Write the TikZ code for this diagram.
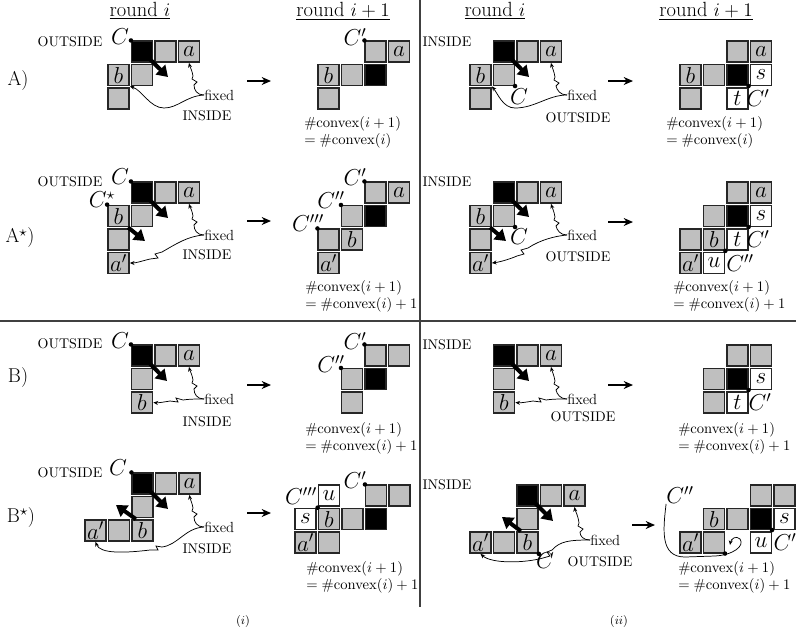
\documentclass[tikz,border=0pt]{standalone}
\usetikzlibrary{arrows.meta}
\tikzset{
  cellbase/.style={rectangle, draw=black!85, line width=0.8pt, minimum size=15.75pt, inner sep=0pt, font=\fontsize{17}{17}\selectfont},
  gc/.style={cellbase, fill=black!25},
  lc/.style={cellbase, fill=black!25, line width=1.3pt},
  bc/.style={cellbase, fill=black},
  wc/.style={cellbase, fill=white, line width=1.1pt},
  clab/.style={font=\fontsize{17}{17}\selectfont, inner sep=0pt},
  sidel/.style={font=\fontsize{10.5}{12}\selectfont, inner sep=0pt},
  fixlab/.style={font=\fontsize{11}{13}\selectfont, inner sep=0pt, anchor=west},
  rowlab/.style={font=\fontsize{15}{17}\selectfont, inner sep=0pt},
  hdr/.style={font=\fontsize{15.4}{17}\selectfont, inner sep=0pt},
  cnt/.style={font=\fontsize{10.5}{12.75}\selectfont, align=left, inner sep=0pt, anchor=north west},
  capt/.style={font=\fontsize{9}{11}\selectfont, inner sep=0pt},
  bigarrow/.style={line width=3pt, -{Triangle[length=8pt,width=10pt]}},
  trarrow/.style={line width=0.9pt, -{Stealth[length=7pt,width=6pt]}},
  wig/.style={line width=0.55pt, -{Stealth[length=3.5pt,width=3pt]}},
  divider/.style={line width=1pt, draw=black!75},
}
\newcommand\mkcell[5]{\node[#2] (#1) at ({\PX+#3*23.5+10.5},{\PY+#4*23.5+10.5}) {#5};}
\newcommand\mkdot[1]{\fill (#1) circle[radius=1.7pt];}
\begin{document}
\begin{tikzpicture}[x=0.75pt,y=-0.75pt]
\useasboundingbox (0,0) rectangle (796,633);
\def\yB{345}
% dividers
\draw[divider] (420,0) -- (420,607);
\draw[divider] (0,321) -- (796,321);
% headers
\node[hdr] (h1) at (140,11) {\underline{round $i$}};
\node[hdr] (h2) at (343,11) {\underline{round $i+1$}};
\node[hdr] (h3) at (495,11) {\underline{round $i$}};
\node[hdr] (h4) at (706,11) {\underline{round $i+1$}};
% ================= A (i) =================
\def\PX{108}\def\PY{41}
\mkcell{aiK}{bc}{1}{0}{}
\mkcell{aiG1}{gc}{2}{0}{}
\mkcell{aiA}{lc}{3}{0}{$a$}
\mkcell{aiB}{lc}{0}{1}{$b$}
\mkcell{aiG2}{gc}{1}{1}{}
\mkcell{aiG3}{gc}{0}{2}{}
\node[clab] (aiC) at (120,37) {$C$};
\mkdot{aiK.north west}
\coordinate (aiT) at (168,77);
\draw[bigarrow] (aiK.center) -- (aiT);
\node[sidel] (aiO) at (70,42) {OUTSIDE};
\node[rowlab] (rA) at (18,81) {A)};
\node[fixlab] (aiF) at (204,95) {fixed};
\node[sidel] (aiI) at (207,116) {INSIDE};
\draw[wig] (aiF.west) .. controls (197,95) and (194,90) .. (194,85) -- (197,82) -- (192,79) -- (193,76) .. controls (192,70) and (190,67) .. (aiA.south);
\draw[wig] (aiF.west) .. controls (186,96) and (178,108) .. (164,108) .. controls (150,108) and (142,90) .. (aiB.south east);
\coordinate (t1a) at (247,81); \coordinate (t1b) at (271,81);
\draw[trarrow] (t1a) -- (t1b);
\def\PX{318}\def\PY{41}
\mkcell{ajG1}{gc}{2}{0}{}
\mkcell{ajA}{lc}{3}{0}{$a$}
\mkcell{ajB}{lc}{0}{1}{$b$}
\mkcell{ajG2}{gc}{1}{1}{}
\mkcell{ajK}{bc}{2}{1}{}
\mkcell{ajG3}{gc}{0}{2}{}
\node[clab] (ajC) at (355,37) {$C'$};
\mkdot{ajG1.north west}
\node[cnt] (ajN) at (304,116) {$\#\mathrm{convex}(i+1)$\\$=\#\mathrm{convex}(i)$};
% ================= A (ii) =================
\def\PX{470}\def\PY{41}
\mkcell{biK}{bc}{1}{0}{}
\mkcell{biG1}{gc}{2}{0}{}
\mkcell{biA}{lc}{3}{0}{$a$}
\mkcell{biB}{lc}{0}{1}{$b$}
\mkcell{biG2}{gc}{1}{1}{}
\mkcell{biG3}{gc}{0}{2}{}
\node[clab] (biC) at (519,97) {$C$};
\mkdot{biG2.south east}
\coordinate (biT) at (529,77);
\draw[bigarrow] (biK.center) -- (biT);
\node[sidel] (biI) at (447,42) {INSIDE};
\node[fixlab] (biF) at (567,95) {fixed};
\node[sidel] (biO) at (578,118) {OUTSIDE};
\draw[wig] (biF.west) .. controls (560,95) and (557,90) .. (556,86) -- (559,83) -- (554,80) -- (555,77) .. controls (554,71) and (552,67) .. (biA.south);
\draw[wig] (biF.west) .. controls (548,95) and (535,108) .. (515,108) .. controls (503,108) and (498,94) .. (biB.south east);
\coordinate (t2a) at (608,81); \coordinate (t2b) at (633,81);
\draw[trarrow] (t2a) -- (t2b);
\def\PX{680}\def\PY{41}
\mkcell{bjG1}{gc}{2}{0}{}
\mkcell{bjA}{lc}{3}{0}{$a$}
\mkcell{bjB}{lc}{0}{1}{$b$}
\mkcell{bjG2}{gc}{1}{1}{}
\mkcell{bjK}{bc}{2}{1}{}
\mkcell{bjS}{wc}{3}{1}{$s$}
\mkcell{bjG3}{gc}{0}{2}{}
\mkcell{bjT}{wc}{2}{2}{$t$}
\node[clab] (bjC) at (758,98) {$C'$};
\mkdot{bjK.south east}
\node[cnt] (bjN) at (666,116) {$\#\mathrm{convex}(i+1)$\\$=\#\mathrm{convex}(i)$};
% ================= A* (i) =================
\def\PX{108}\def\PY{182}
\mkcell{ciK}{bc}{1}{0}{}
\mkcell{ciG1}{gc}{2}{0}{}
\mkcell{ciA}{lc}{3}{0}{$a$}
\mkcell{ciB}{lc}{0}{1}{$b$}
\mkcell{ciG2}{gc}{1}{1}{}
\mkcell{ciG3}{gc}{0}{2}{}
\mkcell{ciA2}{lc}{0}{3}{$a'$}
\node[clab] (ciC) at (120,177) {$C$};
\mkdot{ciK.north west}
\node[clab] (ciC2) at (102,200) {$C^\star$};
\mkdot{ciB.north west}
\coordinate (ciT) at (168,218);
\draw[bigarrow] (ciK.center) -- (ciT);
\coordinate (ciT2) at (145,241);
\draw[bigarrow] (ciB.-50) -- (ciT2);
\node[sidel] (ciO) at (70,182) {OUTSIDE};
\node[rowlab] (rAs) at (20,238) {A$^\star$)};
\node[fixlab] (ciF) at (204,235) {fixed};
\node[sidel] (ciI) at (207,255) {INSIDE};
\draw[wig] (ciF.west) .. controls (197,235) and (194,230) .. (194,225) -- (197,222) -- (192,219) -- (193,216) .. controls (192,210) and (190,207) .. (ciA.south);
\draw[wig] (ciF.west) .. controls (188,236) and (176,244) .. (162,252) -- (155,254) -- (158,258) -- (150,259) .. controls (142,261) and (136,263) .. (ciA2.east);
\coordinate (t3a) at (247,221); \coordinate (t3b) at (271,221);
\draw[trarrow] (t3a) -- (t3b);
\def\PX{318}\def\PY{182}
\mkcell{cjG1}{gc}{2}{0}{}
\mkcell{cjA}{lc}{3}{0}{$a$}
\mkcell{cjG2}{gc}{1}{1}{}
\mkcell{cjK}{bc}{2}{1}{}
\mkcell{cjG3}{gc}{0}{2}{}
\mkcell{cjB}{lc}{1}{2}{$b$}
\mkcell{cjA2}{lc}{0}{3}{$a'$}
\node[clab] (cjC) at (355,177) {$C'$};
\mkdot{cjG1.north west}
\node[clab] (cjC2) at (331,200) {$C''$};
\mkdot{cjG2.north west}
\node[clab] (cjC3) at (308,223) {$C'''$};
\mkdot{cjG3.north west}
\node[cnt] (cjN) at (305,280) {$\#\mathrm{convex}(i+1)$\\$=\#\mathrm{convex}(i)+1$};
% ================= A* (ii) =================
\def\PX{470}\def\PY{182}
\mkcell{diK}{bc}{1}{0}{}
\mkcell{diG1}{gc}{2}{0}{}
\mkcell{diA}{lc}{3}{0}{$a$}
\mkcell{diB}{lc}{0}{1}{$b$}
\mkcell{diG2}{gc}{1}{1}{}
\mkcell{diG3}{gc}{0}{2}{}
\mkcell{diA2}{lc}{0}{3}{$a'$}
\node[clab] (diC) at (519,237) {$C$};
\mkdot{diG2.south east}
\coordinate (diT) at (529,217);
\draw[bigarrow] (diK.center) -- (diT);
\coordinate (diT2) at (506,241);
\draw[bigarrow] (diB.-50) -- (diT2);
\node[sidel] (diI) at (447,182) {INSIDE};
\node[fixlab] (diF) at (567,235) {fixed};
\node[sidel] (diO) at (578,257) {OUTSIDE};
\draw[wig] (diF.west) .. controls (560,235) and (557,230) .. (556,226) -- (559,223) -- (554,220) -- (555,217) .. controls (554,211) and (552,207) .. (diA.south);
\draw[wig] (diF.west) .. controls (555,236) and (540,240) .. (528,248) -- (521,250) -- (524,254) -- (517,256) .. controls (510,259) and (500,262) .. (diA2.east);
\coordinate (t4a) at (608,222); \coordinate (t4b) at (633,222);
\draw[trarrow] (t4a) -- (t4b);
\def\PX{680}\def\PY{182}
\mkcell{djG1}{gc}{2}{0}{}
\mkcell{djA}{lc}{3}{0}{$a$}
\mkcell{djG2}{gc}{1}{1}{}
\mkcell{djK}{bc}{2}{1}{}
\mkcell{djS}{wc}{3}{1}{$s$}
\mkcell{djG3}{gc}{0}{2}{}
\mkcell{djB}{lc}{1}{2}{$b$}
\mkcell{djT}{wc}{2}{2}{$t$}
\mkcell{djA2}{lc}{0}{3}{$a'$}
\mkcell{djU}{wc}{1}{3}{$u$}
\node[clab] (djC) at (758,239) {$C'$};
\mkdot{djK.south east}
\node[clab] (djC2) at (740,263) {$C''$};
\mkdot{djB.south east}
\node[cnt] (djN) at (673,280) {$\#\mathrm{convex}(i+1)$\\$=\#\mathrm{convex}(i)+1$};
% ================= B (i) =================
\def\PX{108}\def\PY{\yB}
\mkcell{eiK}{bc}{1}{0}{}
\mkcell{eiG1}{gc}{2}{0}{}
\mkcell{eiA}{lc}{3}{0}{$a$}
\mkcell{eiG2}{gc}{1}{1}{}
\mkcell{eiB}{lc}{1}{2}{$b$}
\node[clab] (eiC) at (120,\yB-4) {$C$};
\mkdot{eiK.north west}
\coordinate (eiT) at (167,\yB+36);
\draw[bigarrow] (eiK.center) -- (eiT);
\node[sidel] (eiO) at (70,\yB-1) {OUTSIDE};
\node[rowlab] (rB) at (18,\yB+33) {B)};
\node[fixlab] (eiF) at (204,\yB+54) {fixed};
\node[sidel] (eiI) at (207,\yB+77) {INSIDE};
\draw[wig] (eiF.west) .. controls (197,\yB+54) and (194,\yB+49) .. (194,\yB+44) -- (197,\yB+41) -- (192,\yB+38) -- (193,\yB+35) .. controls (192,\yB+29) and (190,\yB+26) .. (eiA.south);
\draw[wig] (eiF.west) .. controls (196,\yB+54) and (189,\yB+54) .. (183,\yB+55) -- (176,\yB+53) -- (178,\yB+57) -- (170,\yB+56) .. controls (164,\yB+57) and (158,\yB+58) .. (eiB.east);
\coordinate (t5a) at (247,\yB+40); \coordinate (t5b) at (271,\yB+40);
\draw[trarrow] (t5a) -- (t5b);
\def\PX{318}\def\PY{\yB}
\mkcell{ejG1}{gc}{2}{0}{}
\mkcell{ejG2}{gc}{3}{0}{}
\mkcell{ejG3}{gc}{1}{1}{}
\mkcell{ejK}{bc}{2}{1}{}
\mkcell{ejG4}{gc}{1}{2}{}
\node[clab] (ejC) at (355,\yB-4) {$C'$};
\mkdot{ejG1.north west}
\node[clab] (ejC2) at (331,\yB+19) {$C''$};
\mkdot{ejG3.north west}
\node[cnt] (ejN) at (305,\yB+77) {$\#\mathrm{convex}(i+1)$\\$=\#\mathrm{convex}(i)+1$};
% ================= B (ii) =================
\def\PX{470}\def\PY{\yB}
\mkcell{fiK}{bc}{1}{0}{}
\mkcell{fiG1}{gc}{2}{0}{}
\mkcell{fiA}{lc}{3}{0}{$a$}
\mkcell{fiG2}{gc}{1}{1}{}
\mkcell{fiB}{lc}{1}{2}{$b$}
\coordinate (fiT) at (529,\yB+36);
\draw[bigarrow] (fiK.center) -- (fiT);
\node[sidel] (fiI) at (447,\yB) {INSIDE};
\node[fixlab] (fiF) at (567,\yB+54) {fixed};
\node[sidel] (fiO) at (583,\yB+72) {OUTSIDE};
\draw[wig] (fiF.west) .. controls (560,\yB+54) and (557,\yB+49) .. (556,\yB+45) -- (559,\yB+42) -- (554,\yB+39) -- (555,\yB+36) .. controls (554,\yB+30) and (552,\yB+26) .. (fiA.south);
\draw[wig] (fiF.west) .. controls (559,\yB+54) and (552,\yB+54) .. (546,\yB+55) -- (539,\yB+53) -- (541,\yB+57) -- (533,\yB+56) .. controls (527,\yB+57) and (521,\yB+58) .. (fiB.east);
\coordinate (t6a) at (608,\yB+40); \coordinate (t6b) at (633,\yB+40);
\draw[trarrow] (t6a) -- (t6b);
\def\PX{680}\def\PY{\yB}
\mkcell{fjG1}{gc}{2}{0}{}
\mkcell{fjG2}{gc}{3}{0}{}
\mkcell{fjG3}{gc}{1}{1}{}
\mkcell{fjK}{bc}{2}{1}{}
\mkcell{fjS}{wc}{3}{1}{$s$}
\mkcell{fjG4}{gc}{1}{2}{}
\mkcell{fjT}{wc}{2}{2}{$t$}
\node[clab] (fjC) at (760,\yB+57) {$C'$};
\mkdot{fjK.south east}
\node[cnt] (fjN) at (678,\yB+77) {$\#\mathrm{convex}(i+1)$\\$=\#\mathrm{convex}(i)+1$};
% ================= B* (i) =================
\def\PX{85}\def\PY{473}
\mkcell{giK}{bc}{2}{0}{}
\mkcell{giG1}{gc}{3}{0}{}
\mkcell{giA}{lc}{4}{0}{$a$}
\mkcell{giG2}{gc}{2}{1}{}
\mkcell{giA2}{lc}{0}{2}{$a'$}
\mkcell{giG3}{gc}{1}{2}{}
\mkcell{giB}{lc}{2}{2}{$b$}
\node[clab] (giC) at (118,468) {$C$};
\mkdot{giK.north west}
\coordinate (giT) at (168,509);
\draw[bigarrow] (giK.center) -- (giT);
\coordinate (giT2) at (116,505);
\draw[bigarrow] (giB.120) -- (giT2);
\node[sidel] (giO) at (70,473) {OUTSIDE};
\node[rowlab] (rBs) at (21,517) {B$^\star$)};
\node[fixlab] (giF) at (204,527) {fixed};
\node[sidel] (giI) at (207,549) {INSIDE};
\draw[wig] (giF.west) .. controls (197,527) and (194,522) .. (194,517) -- (197,514) -- (192,511) -- (193,508) .. controls (192,502) and (190,499) .. (giA.south);
\draw[wig] (giF.west) .. controls (185,528) and (178,545) .. (162,547) -- (156,546) -- (158,550) -- (150,550) .. controls (125,553) and (100,554) .. (giA2.south);
\coordinate (t7a) at (247,513); \coordinate (t7b) at (271,513);
\draw[trarrow] (t7a) -- (t7b);
\def\PX{295}\def\PY{485}
\mkcell{gjU}{wc}{1}{0}{$u$}
\mkcell{gjG1}{gc}{3}{0}{}
\mkcell{gjG2}{gc}{4}{0}{}
\mkcell{gjS}{wc}{0}{1}{$s$}
\mkcell{gjB}{lc}{1}{1}{$b$}
\mkcell{gjG3}{gc}{2}{1}{}
\mkcell{gjK}{bc}{3}{1}{}
\mkcell{gjA2}{lc}{0}{2}{$a'$}
\mkcell{gjG4}{gc}{1}{2}{}
\node[clab] (gjC) at (355,480) {$C'$};
\mkdot{gjG1.north west}
\node[clab] (gjC3) at (301,496) {$C'''$};
\mkdot{gjB.north west}
\node[cnt] (gjN) at (306,561) {$\#\mathrm{convex}(i+1)$\\$=\#\mathrm{convex}(i)+1$};
% ================= B* (ii) =================
\def\PX{470}\def\PY{485}
\mkcell{hiK}{bc}{2}{0}{}
\mkcell{hiG1}{gc}{3}{0}{}
\mkcell{hiA}{lc}{4}{0}{$a$}
\mkcell{hiG2}{gc}{2}{1}{}
\mkcell{hiA2}{lc}{0}{2}{$a'$}
\mkcell{hiG3}{gc}{1}{2}{}
\mkcell{hiB}{lc}{2}{2}{$b$}
\coordinate (hiT) at (553,521);
\draw[bigarrow] (hiK.center) -- (hiT);
\coordinate (hiT2) at (502,517);
\draw[bigarrow] (hiB.120) -- (hiT2);
\node[sidel] (hiI) at (447,485) {INSIDE};
\node[fixlab] (hiF) at (590,540) {fixed};
\node[sidel] (hiO) at (600,562) {OUTSIDE};
\draw[wig] (hiF.west) .. controls (583,540) and (580,536) .. (580,532) -- (583,529) -- (578,526) -- (579,523) .. controls (578,515) and (575,510) .. (hiA.south);
\draw[wig] (hiF.west) .. controls (570,540) and (560,541) .. (552,550) -- (547,552) -- (550,556) -- (543,558) .. controls (525,563) and (492,564) .. (hiA2.south);
\node[clab] (hiC) at (545,561) {$C$};
\mkdot{hiB.south east}
\coordinate (t8a) at (632,525); \coordinate (t8b) at (655,525);
\draw[trarrow] (t8a) -- (t8b);
\def\PX{680}\def\PY{485}
\mkcell{hjG1}{gc}{3}{0}{}
\mkcell{hjG2}{gc}{4}{0}{}
\mkcell{hjB}{lc}{1}{1}{$b$}
\mkcell{hjG3}{gc}{2}{1}{}
\mkcell{hjK}{bc}{3}{1}{}
\mkcell{hjS}{wc}{4}{1}{$s$}
\mkcell{hjA2}{lc}{0}{2}{$a'$}
\mkcell{hjG4}{gc}{1}{2}{}
\mkcell{hjU}{wc}{3}{2}{$u$}
\node[clab] (hjC) at (785,542) {$C'$};
\mkdot{hjK.south east}
\node[clab] (hjC2) at (680,495) {$C''$};
\mkdot{hjG4.south east}
\draw[wig] (hjC2.south west) .. controls (663,530) and (660,557) .. (685,557) -- (715,556) .. controls (733,555) and (745,546) .. (740,539) .. controls (736,535) and (731,539) .. (730,545);
\node[cnt] (hjN) at (678,561) {$\#\mathrm{convex}(i+1)$\\$=\#\mathrm{convex}(i)+1$};
% captions
\node[capt] (cap1) at (243,621) {$(i)$};
\node[capt] (cap2) at (619,621) {$(ii)$};
\end{tikzpicture}
\end{document}
